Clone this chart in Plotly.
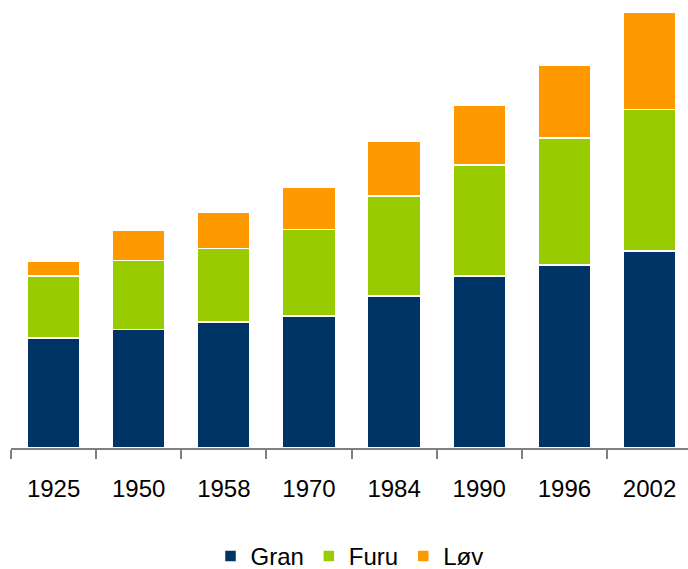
import plotly.graph_objects as go

years = ["1925", "1950", "1958", "1970", "1984", "1990", "1996", "2002"]
gran = [176, 190, 202, 211, 243, 275, 293, 315]
furu = [99, 110, 117, 139, 160, 178, 203, 227]
lov = [24, 48, 59, 67, 88, 96, 117, 155]

colors = {"Gran": "#003366", "Furu": "#99CC00", "Løv": "#FF9900"}

fig = go.Figure()
for name, vals in [("Gran", gran), ("Furu", furu), ("Løv", lov)]:
    fig.add_trace(go.Bar(
        x=years, y=vals, name=name,
        marker=dict(color=colors[name], line=dict(color="white", width=1.5)),
    ))

fig.update_layout(
    barmode="stack",
    bargap=0.38,
    width=688, height=569,
    margin=dict(l=11, r=0, t=0, b=121, autoexpand=False),
    paper_bgcolor="white", plot_bgcolor="white",
    font=dict(family="Liberation Sans, Arial, sans-serif", size=24, color="black"),
    showlegend=True,
    legend=dict(orientation="h", x=0.5, xanchor="center", y=-0.192, yanchor="top",
                font=dict(size=24), traceorder="normal", itemwidth=30, tracegroupgap=0),
)
fig.update_xaxes(
    type="category",
    range=[-0.5, 7.452],
    automargin=False,
    showline=True, linecolor="#808080", linewidth=1.5,
    ticks="outside", tickson="boundaries", ticklen=9, tickcolor="#808080", tickwidth=1.5,
    showgrid=False, zeroline=False,
    ticklabelstandoff=18,
)
fig.update_yaxes(range=[0, 716.8], visible=False, showgrid=False, zeroline=False)

fig.write_html("out.html", config={"displayModeBar": False},
               post_script="document.body.style.margin='0';document.body.style.overflow='hidden';")
